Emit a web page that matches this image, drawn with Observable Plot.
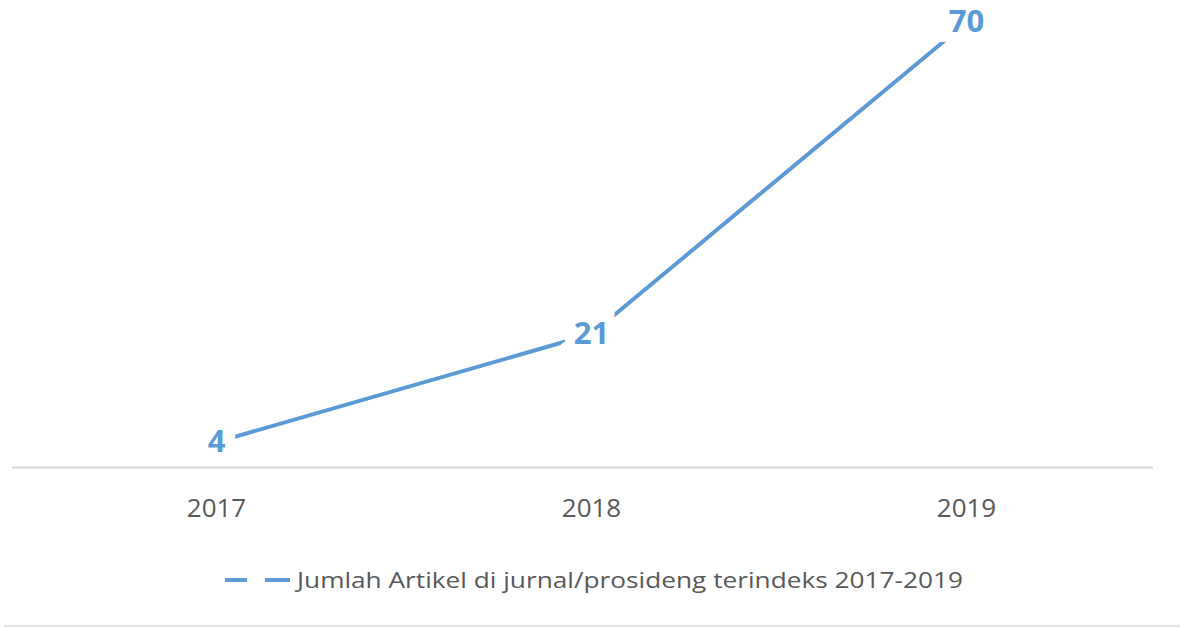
<!DOCTYPE html>
<html><head><meta charset="utf-8">
<script src="https://cdn.jsdelivr.net/npm/d3@7"></script>
<script src="https://cdn.jsdelivr.net/npm/@observablehq/plot@0.6"></script>
<style>
html,body{margin:0;padding:0;background:#fff;}
#wrap{position:relative;width:1180px;height:627px;overflow:hidden;}
#wrap svg{display:block;}
#legend{position:absolute;left:0;top:545px;}
</style></head><body><div id="wrap"></div>
<script>
const years = ["2017", "2018", "2019"];
const counts = [4, 21, 70];
const seriesName = "Jumlah Artikel di jurnal/prosideng terindeks 2017-2019";
const lineColor = "#5B9BD5";

const data = years.map((y, i) => ({year: y, value: counts[i]}));

const chart = Plot.plot({
  width: 1180, height: 545,
  marginTop: 22, marginBottom: 78, marginLeft: 12, marginRight: 27,
  style: {fontFamily: "'Open Sans', sans-serif", background: "#fff", color: "#595959"},
  x: {type: "point", domain: years, range: [28, 1153], label: null},
  y: {domain: [0, 70], axis: null},
  marks: [
    Plot.ruleY([0], {stroke: "#d9d9d9", strokeWidth: 2}),
    Plot.axisX({tickSize: 0, tickPadding: 31, fontSize: 26, fill: "#595959", label: null}),
    Plot.line(data, {x: "year", y: "value", stroke: lineColor, strokeWidth: 4}),
    Plot.text(data, {x: "year", y: "value", text: d => String(d.value), fill: lineColor,
      fontSize: 31, fontWeight: "bold", stroke: "white", strokeWidth: 20,
      strokeLinejoin: "miter", paintOrder: "stroke", lineAnchor: "middle"})
  ]
});
const wrap = document.getElementById("wrap");
wrap.appendChild(chart);

const ns = "http://www.w3.org/2000/svg";
const lg = document.createElementNS(ns, "svg");
lg.setAttribute("id", "legend");
lg.setAttribute("width", 1180);
lg.setAttribute("height", 82);
function el(tag, attrs) {
  const e = document.createElementNS(ns, tag);
  for (const k in attrs) e.setAttribute(k, attrs[k]);
  lg.appendChild(e);
  return e;
}
el("line", {x1: 225, x2: 247, y1: 35, y2: 35, stroke: lineColor, "stroke-width": 4});
el("line", {x1: 265, x2: 290, y1: 35, y2: 35, stroke: lineColor, "stroke-width": 4});
const t = el("text", {x: 297, y: 43, fill: "#595959", "font-family": "'Open Sans', sans-serif",
  "font-size": 22, textLength: 666, lengthAdjust: "spacingAndGlyphs"});
t.textContent = seriesName;
el("line", {x1: 4, x2: 1180, y1: 81, y2: 81, stroke: "#e3e3e3", "stroke-width": 2});
wrap.appendChild(lg);
</script>
</body></html>
